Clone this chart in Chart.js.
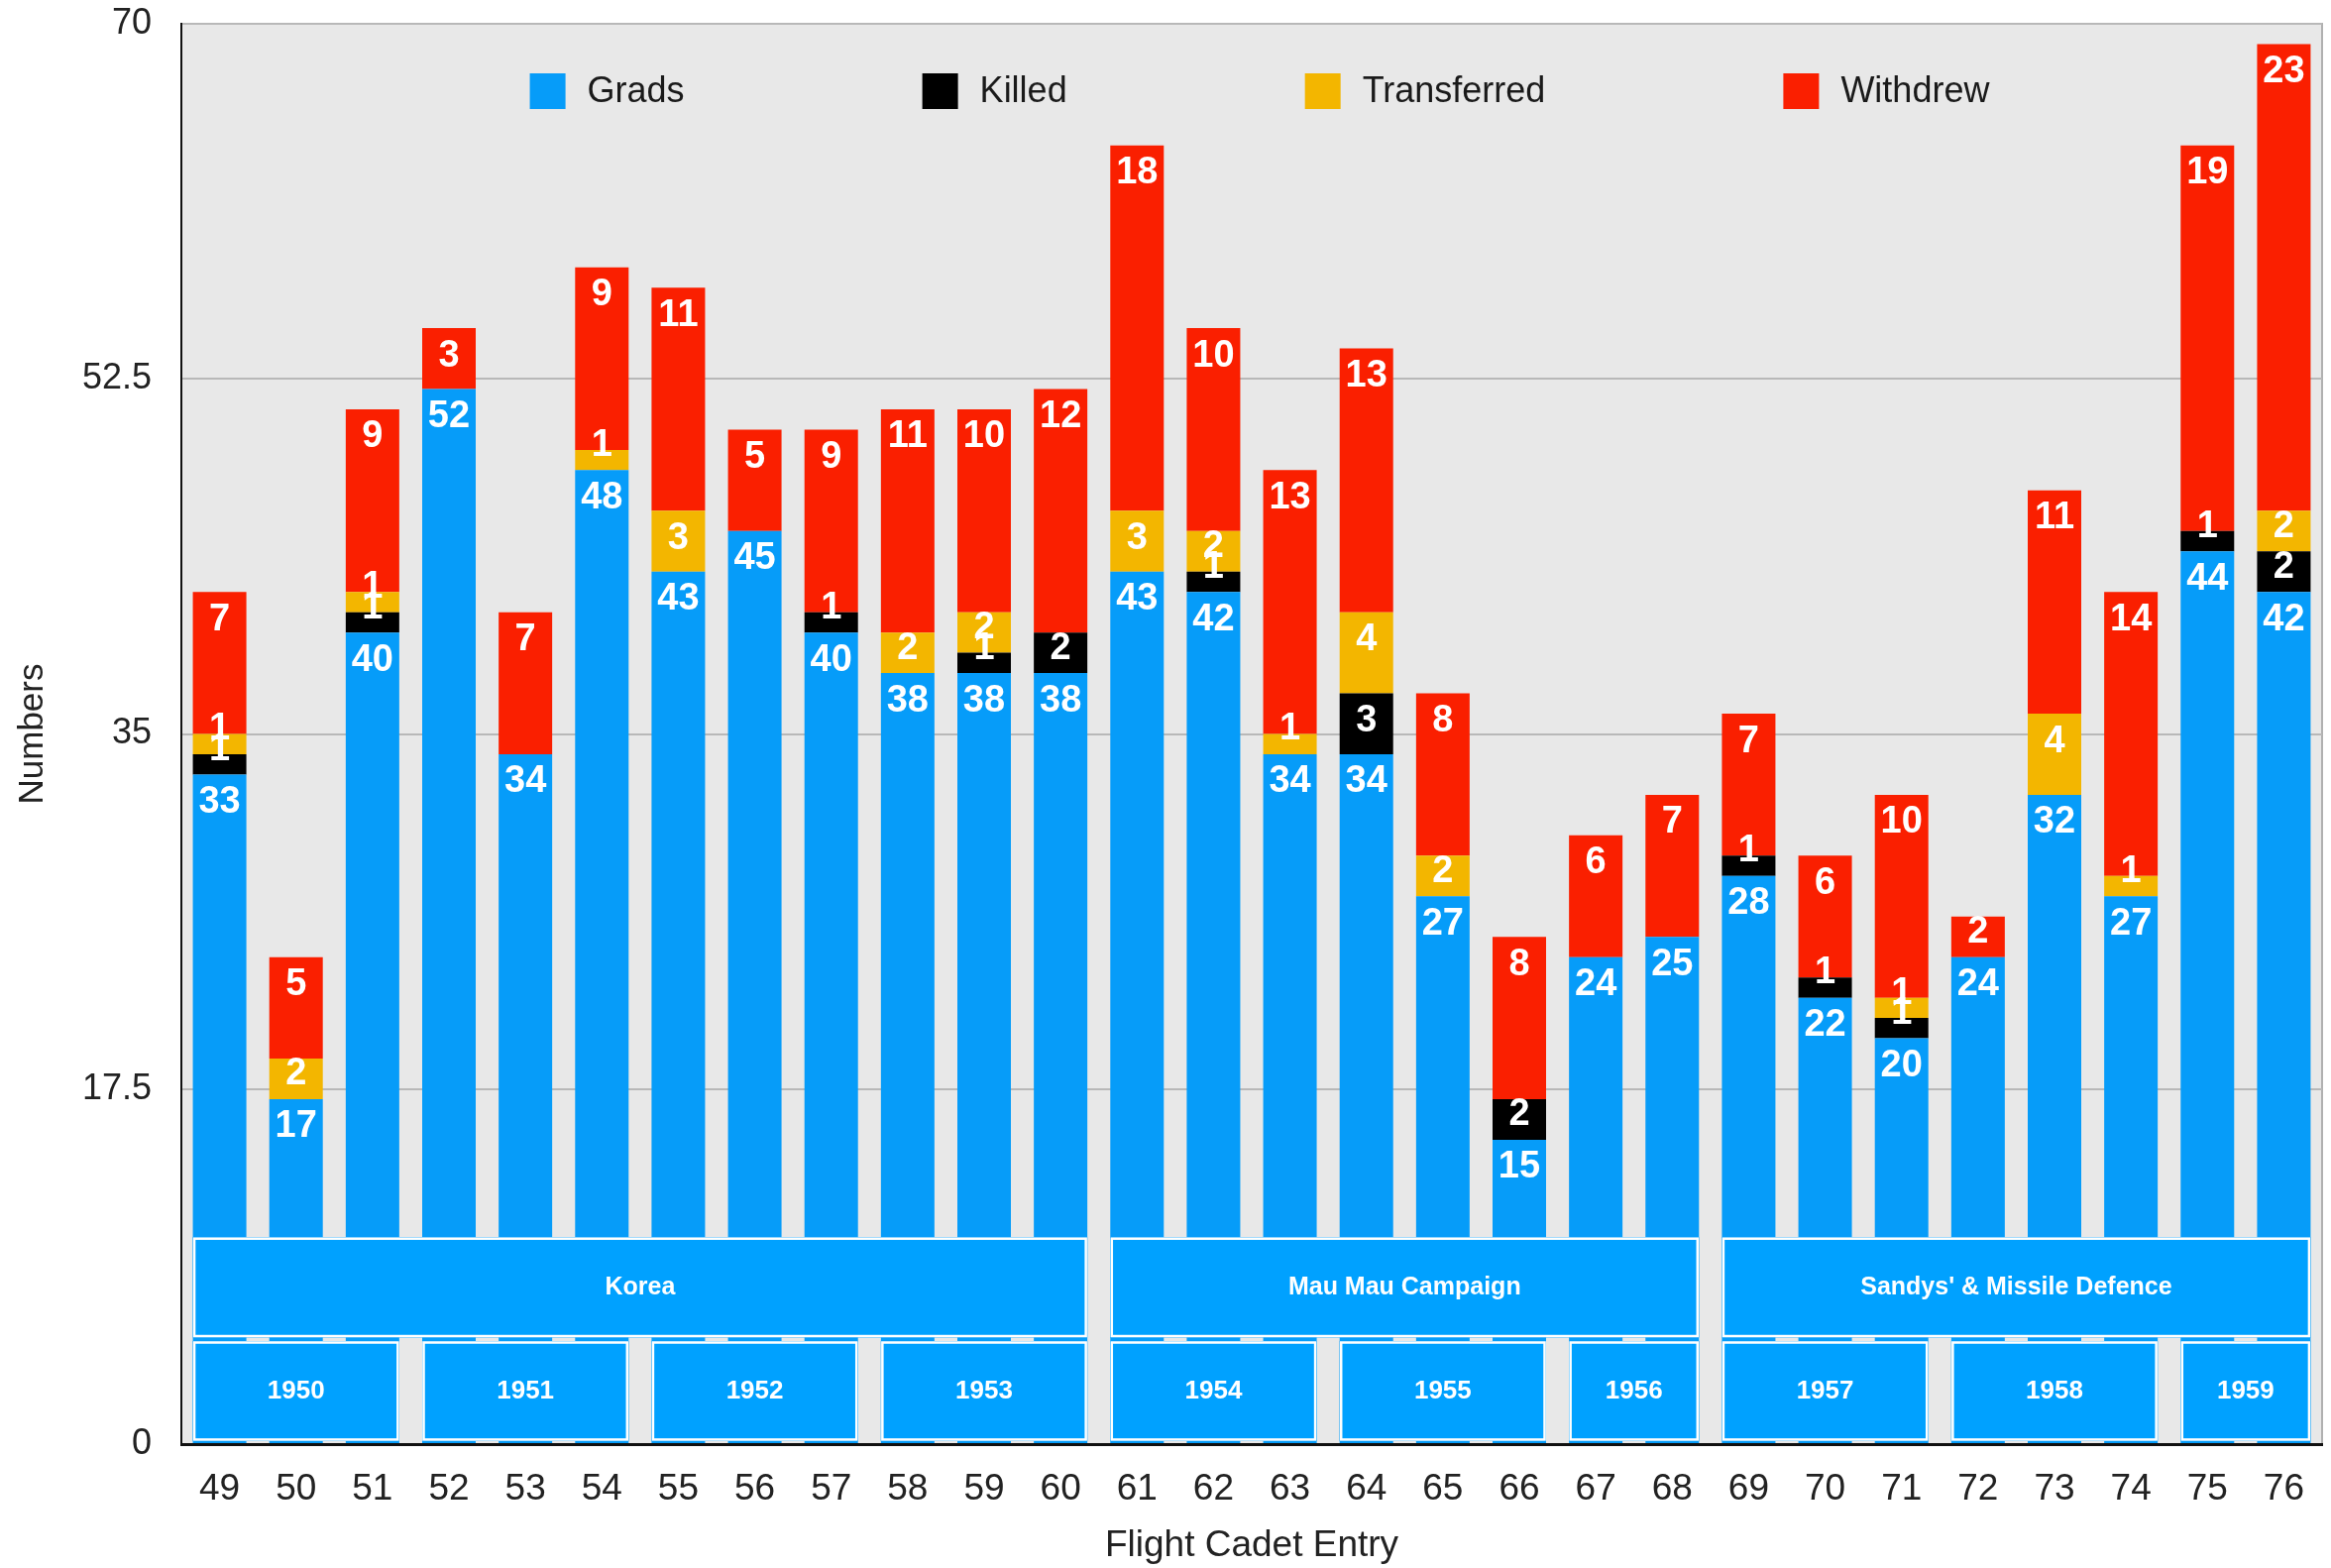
<!DOCTYPE html>
<html>
<head>
<meta charset="utf-8">
<script src="https://cdn.jsdelivr.net/npm/chart.js@4/dist/chart.umd.min.js"></script>
<style>
  body { margin: 0; background: #fff; }
  canvas { display: block; }
</style>
</head>
<body>
<canvas id="cadetChart" width="2352" height="1582"></canvas>
<script>
// flight cadet entries
const entries = ['49','50','51','52','53','54','55','56','57','58','59','60','61','62',
                 '63','64','65','66','67','68','69','70','71','72','73','74','75','76'];
const grads       = [33,17,40,52,34,48,43,45,40,38,38,38,43,42,34,34,27,15,24,25,28,22,20,24,32,27,44,42];
const killed      = [ 1, 0, 1, 0, 0, 0, 0, 0, 1, 0, 1, 2, 0, 1, 0, 3, 0, 2, 0, 0, 1, 1, 1, 0, 0, 0, 1, 2];
const transferred = [ 1, 2, 1, 0, 0, 1, 3, 0, 0, 2, 2, 0, 3, 2, 1, 4, 2, 0, 0, 0, 0, 0, 1, 0, 4, 1, 0, 2];
const withdrew    = [ 7, 5, 9, 3, 7, 9,11, 5, 9,11,10,12,18,10,13,13, 8, 8, 6, 7, 7, 6,10, 2,11,14,19,23];

const yTicks = [0, 17.5, 35, 52.5, 70];

// period bands along the bottom (first and last entry covered)
const periodNames = ['Korea', 'Mau Mau Campaign', "Sandys' & Missile Defence"];
const periodFrom  = ['49', '61', '69'];
const periodTo    = ['60', '68', '76'];

const yearNames = ['1950','1951','1952','1953','1954','1955','1956','1957','1958','1959'];
const yearFrom  = ['49','52','55','58','61','64','67','69','72','75'];
const yearTo    = ['51','54','57','60','63','66','68','71','74','76'];

const FONT = '"Liberation Sans", Arial, Helvetica, sans-serif';
const BOX_BLUE = '#00a1ff';

const plotBackground = {
  id: 'plotBackground',
  beforeDraw(chart) {
    const { ctx, chartArea: a } = chart;
    ctx.save();
    ctx.fillStyle = '#e8e8e8';
    ctx.fillRect(a.left, a.top, a.right - a.left, a.bottom - a.top);
    ctx.strokeStyle = '#b0b0b0';
    ctx.lineWidth = 2;
    ctx.beginPath();
    ctx.moveTo(a.left, a.top);
    ctx.lineTo(a.right, a.top);
    ctx.lineTo(a.right, a.bottom);
    ctx.stroke();
    ctx.restore();
  }
};

function drawBand(chart, names, from, to, vTop, vBottom, fontSize) {
  const { ctx } = chart;
  const meta = chart.getDatasetMeta(0);
  const y = chart.scales.y;
  const yT = y.getPixelForValue(vTop), yB = y.getPixelForValue(vBottom);
  names.forEach((name, k) => {
    const b0 = meta.data[entries.indexOf(from[k])];
    const b1 = meta.data[entries.indexOf(to[k])];
    const x0 = b0.x - b0.width / 2, x1 = b1.x + b1.width / 2;
    ctx.fillStyle = BOX_BLUE;
    ctx.fillRect(x0, yT, x1 - x0, yB - yT);
    ctx.strokeStyle = '#ffffff';
    ctx.lineWidth = 2.5;
    ctx.strokeRect(x0 + 1.5, yT + 1.5, x1 - x0 - 3, yB - yT - 3);
    ctx.fillStyle = '#ffffff';
    ctx.font = 'bold ' + fontSize + 'px ' + FONT;
    ctx.textAlign = 'center';
    ctx.textBaseline = 'middle';
    ctx.fillText(name, (x0 + x1) / 2, (yT + yB) / 2);
  });
}

const overlays = {
  id: 'overlays',
  afterDatasetsDraw(chart) {
    const { ctx } = chart;
    ctx.save();
    drawBand(chart, periodNames, periodFrom, periodTo, 10.2, 5.25, 25);
    drawBand(chart, yearNames, yearFrom, yearTo, 5.08, 0.15, 26);

    // value labels near the top of every segment (pushed up on thin segments)
    ctx.font = 'bold 38px ' + FONT;
    ctx.fillStyle = '#ffffff';
    ctx.textAlign = 'center';
    ctx.textBaseline = 'middle';
    chart.data.datasets.forEach((ds, i) => {
      chart.getDatasetMeta(i).data.forEach((bar, j) => {
        const v = ds.data[j];
        if (!v) return;
        const cy = Math.min(bar.y + 28, bar.base - 25);
        ctx.fillText(String(v), bar.x, cy);
      });
    });

    // legend inside the plot
    const a = chart.chartArea;
    ctx.font = '36px ' + FONT;
    ctx.textAlign = 'left';
    const sq = 36, gapIn = 22, gapOut = 240;
    const items = chart.data.datasets.map(d => ({ text: d.label, color: d.backgroundColor,
                                                  w: ctx.measureText(d.label).width }));
    let total = 0;
    items.forEach((it, k) => { total += sq + gapIn + it.w + (k ? gapOut : 0); });
    let x = (a.left + a.right) / 2 - total / 2 + 8;
    const cy = a.top + 68;
    items.forEach(it => {
      ctx.fillStyle = it.color;
      ctx.fillRect(x, cy - sq / 2, sq, sq);
      ctx.fillStyle = '#1a1a1a';
      ctx.fillText(it.text, x + sq + gapIn, cy + 1);
      x += sq + gapIn + it.w + gapOut;
    });
    ctx.restore();
  }
};

new Chart(document.getElementById('cadetChart'), {
  type: 'bar',
  data: {
    labels: entries,
    datasets: [
      { label: 'Grads',       data: grads,       backgroundColor: '#069cf9' },
      { label: 'Killed',      data: killed,      backgroundColor: '#000000' },
      { label: 'Transferred', data: transferred, backgroundColor: '#f3b600' },
      { label: 'Withdrew',    data: withdrew,    backgroundColor: '#fa1f00' }
    ]
  },
  options: {
    responsive: false,
    animation: false,
    layout: { padding: { top: 24, right: 9, left: 0, bottom: 0 } },
    datasets: { bar: { barPercentage: 0.7, categoryPercentage: 1.0 } },
    plugins: { legend: { display: false }, tooltip: { enabled: false } },
    scales: {
      x: {
        stacked: true,
        grid: { display: false, drawTicks: false },
        border: { display: true, color: '#111', width: 3 },
        ticks: { color: '#222', font: { family: FONT, size: 37 }, padding: 24, maxRotation: 0 },
        title: { display: true, text: 'Flight Cadet Entry', color: '#222',
                 font: { family: FONT, size: 37 }, padding: { top: 6, bottom: 0 } },
        afterFit(s) { s.height = 125; s.paddingTop = 0; }
      },
      y: {
        stacked: true,
        min: 0, max: 70,
        afterBuildTicks(s) { s.ticks = yTicks.map(v => ({ value: v })); },
        grid: { color: '#b8b8b8', lineWidth: 2, drawTicks: false },
        border: { display: true, color: '#111', width: 2 },
        ticks: { color: '#222', font: { family: FONT, size: 36 }, padding: 30 },
        title: { display: true, text: 'Numbers', color: '#222',
                 font: { family: FONT, size: 35 }, padding: { top: 12, bottom: 0 } },
        afterFit(s) { s.width = 183; s.paddingTop = 0; s.paddingBottom = 0; }
      }
    }
  },
  plugins: [plotBackground, overlays]
});
</script>
</body>
</html>
